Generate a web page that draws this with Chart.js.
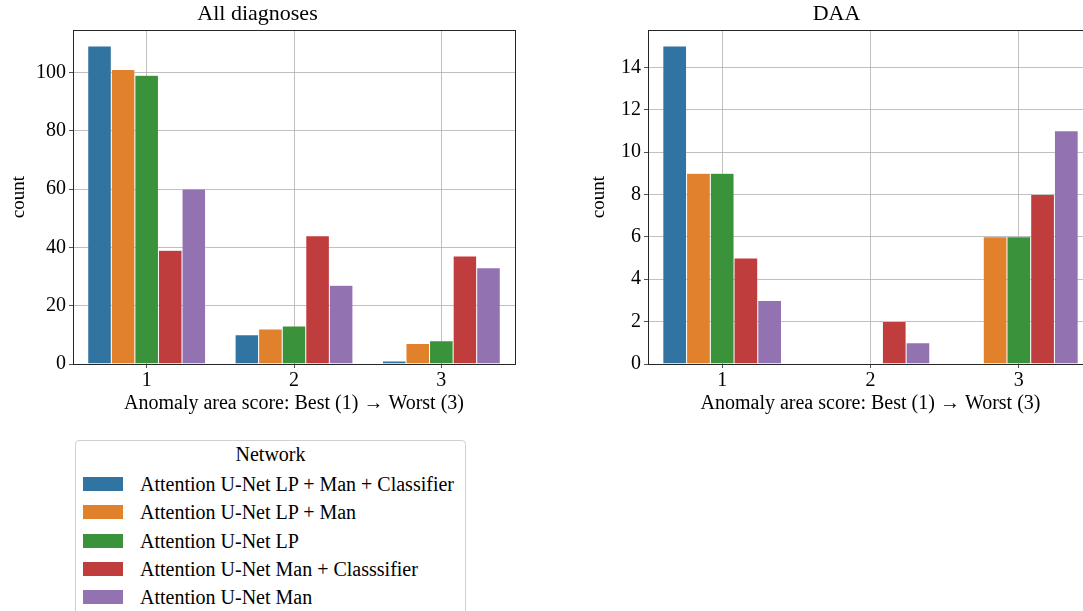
<!DOCTYPE html>
<html>
<head>
<meta charset="utf-8">
<script src="https://cdn.jsdelivr.net/npm/chart.js@4"></script>
<style>
  html, body { margin: 0; padding: 0; background: #fff; overflow: hidden; width: 1083px; height: 611px; }
  body { position: relative; font-family: 'Liberation Serif', 'DejaVu Serif', serif; color: #000; }
  canvas { position: absolute; }
  #left { left: 0; top: 0; }
  #right { left: 580px; top: 0; }
  .legend { position: absolute; left: 75px; top: 440px; width: 391px; height: 200px; border: 1px solid #d0d0d0; border-radius: 4px; box-sizing: border-box; }
  .legend-title { position: absolute; left: 0; width: 100%; top: 2px; text-align: center; font-size: 20px; }
  .legend-item { position: absolute; left: 7px; font-size: 20px; white-space: nowrap; }
  .legend-item .sw { position: absolute; left: 0; top: 7px; width: 40px; height: 14px; }
  .legend-item .lbl { position: absolute; left: 57px; top: 0; line-height: 28px; }
</style>
</head>
<body>
<canvas id="left" width="540" height="420"></canvas>
<canvas id="right" width="540" height="420"></canvas>
<div class="legend" id="legend"></div>
<script>
const scores = ['1', '2', '3'];
const networks = [
  'Attention U-Net LP + Man + Classifier',
  'Attention U-Net LP + Man',
  'Attention U-Net LP',
  'Attention U-Net Man + Classsifier',
  'Attention U-Net Man'
];
const colors = ['#3274a1', '#e1812c', '#3a923a', '#c03d3e', '#9372b2'];

// counts per network, for scores 1, 2, 3
const allDiagnoses = [
  [109, 10, 1],
  [101, 12, 7],
  [99, 13, 8],
  [39, 44, 37],
  [60, 27, 33]
];
const daa = [
  [15, 0, 0],
  [9, 0, 6],
  [9, 0, 6],
  [5, 2, 8],
  [3, 1, 11]
];

const xLabel = 'Anomaly area score: Best (1) \u2192 Worst (3)';
const serif = "'Liberation Serif', 'DejaVu Serif', serif";

const boxPlugin = {
  id: 'box',
  afterDraw(chart) {
    const a = chart.chartArea;
    const ctx = chart.ctx;
    ctx.save();
    ctx.strokeStyle = '#262626';
    ctx.lineWidth = 1;
    ctx.strokeRect(Math.round(a.left) + 0.5, Math.round(a.top) + 0.5, Math.round(a.right - a.left), Math.round(a.bottom - a.top));
    ctx.restore();
  }
};

function makeChart(id, title, rows, yMax, yStep, yWidth, padRight) {
  return new Chart(document.getElementById(id), {
    type: 'bar',
    data: {
      labels: scores,
      datasets: rows.map((r, i) => ({
        label: networks[i],
        data: r,
        backgroundColor: colors[i],
        borderColor: 'rgba(255,255,255,0.3)',
        borderWidth: 0.5,
        categoryPercentage: 0.8,
        barPercentage: 1.0
      }))
    },
    options: {
      responsive: false,
      animation: false,
      devicePixelRatio: 1,
      layout: { padding: { left: 0, right: padRight, top: 0, bottom: 0 } },
      plugins: {
        legend: { display: false },
        tooltip: { enabled: false },
        title: {
          display: true, text: title, color: '#000',
          font: { family: serif, size: 22, weight: 'normal', lineHeight: 1.1 },
          padding: { top: 2, bottom: 4 }
        }
      },
      scales: {
        x: {
          z: 1,
          grid: { offset: false, color: '#b0b0b0', lineWidth: 0.8, tickLength: 4, tickColor: '#262626' },
          border: { display: false },
          ticks: { color: '#000', font: { family: serif, size: 20 }, padding: 1 },
          title: { display: true, text: xLabel, color: '#000', font: { family: serif, size: 20 }, padding: { top: 0, bottom: 4 } },
          afterFit(scale) { scale.height = 56; }
        },
        y: {
          z: 1,
          min: 0, max: yMax,
          grid: { color: '#b0b0b0', lineWidth: 0.8, tickLength: 4, tickColor: '#262626' },
          border: { display: false },
          ticks: { stepSize: yStep, color: '#000', font: { family: serif, size: 20 }, padding: 3 },
          title: { display: true, text: 'count', color: '#000', font: { family: serif, size: 19 }, padding: { top: 8, bottom: 0 } },
          afterBuildTicks(scale) { scale.ticks = scale.ticks.filter(t => t.value % yStep === 0); },
          afterFit(scale) { scale.width = yWidth; }
        }
      }
    },
    plugins: [boxPlugin]
  });
}

makeChart('left', 'All diagnoses', allDiagnoses, 114.45, 20, 73, 25);
makeChart('right', 'DAA', daa, 15.75, 2, 68, 27);

const legend = document.getElementById('legend');
legend.innerHTML = '<div class="legend-title">Network</div>' + networks.map((n, i) =>
  `<div class="legend-item" style="top:${29 + i * 28.3}px"><span class="sw" style="background:${colors[i]}"></span><span class="lbl">${n}</span></div>`
).join('');
</script>
</body>
</html>
